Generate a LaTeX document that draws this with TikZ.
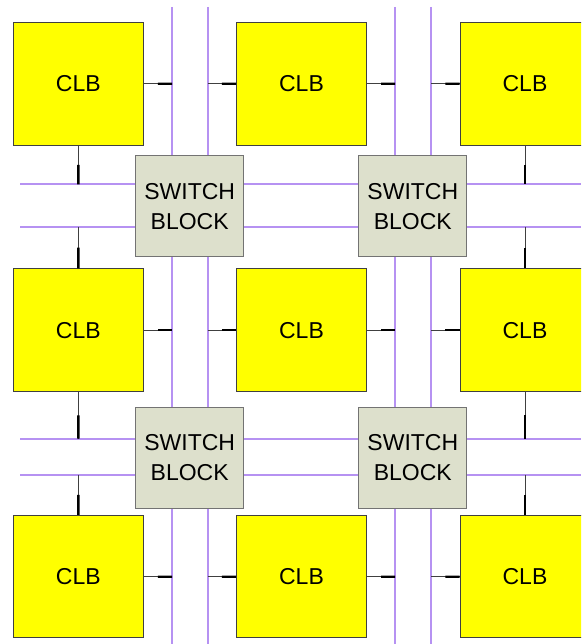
\documentclass[tikz,border=0pt]{standalone}
\usepackage{fontspec}
\setmainfont{Liberation Sans}
\usetikzlibrary{calc}

\definecolor{clbyellow}{RGB}{255,255,0}
\definecolor{sbgray}{RGB}{221,224,204}
\definecolor{routing}{RGB}{182,146,242}

\tikzset{
    clb/.style={draw=black!75, fill=clbyellow, line width=1pt,
        minimum width=130pt, minimum height=122.5pt, inner sep=0pt,
        font=\fontsize{23}{30}\selectfont},
    switchbox/.style={draw=black!55, fill=sbgray, line width=1.2pt,
        minimum width=108pt, minimum height=101pt, inner sep=0pt,
        align=center, font=\fontsize{23}{30}\selectfont},
    track/.style={draw=routing, line width=2pt},
    pinthin/.style={draw=black!75, line width=1pt},
    pinthick/.style={draw=black, line width=2.4pt},
}

% thin first half, thick second half
\newcommand{\pinwire}[2]{%
    \draw[pinthin] (#1) -- (#2);
    \draw[pinthick] ($(#1)!0.5!(#2)$) -- (#2);}

\begin{document}
\begin{tikzpicture}[x=1pt, y=-1pt]

    \clip (0,0) rectangle (581,644);

    % routing tracks
    \foreach \x [count=\i] in {172,207.7,395,431}
        \draw[track] (\x,7) coordinate (v\i) -- (\x,644);
    \foreach \y [count=\i] in {184.3,226.7,438.7,474.7}
        \draw[track] (20,\y) coordinate (h\i) -- (581,\y);

    % switch blocks
    \foreach \c/\x in {1/189.7,2/412.8}
        \foreach \r/\y in {1/206.2,2/458}
            \node[switchbox] (sb\r\c) at (\x,\y) {SWITCH\\BLOCK};

    % logic blocks
    \foreach \c/\x in {1/78.3,2/301.5,3/525}
        \foreach \r/\y in {1/83.8,2/330.1,3/576.7}
            \node[clb] (clb\r\c) at (\x,\y) {CLB};

    % horizontal pins
    \foreach \r in {1,2,3} {
        \pinwire{clb\r1.east}{clb\r1.east -| v1}
        \pinwire{clb\r2.west -| v2}{clb\r2.west}
        \pinwire{clb\r2.east}{clb\r2.east -| v3}
        \pinwire{clb\r3.west -| v4}{clb\r3.west}
    }

    % vertical pins
    \foreach \c in {1,3} {
        \pinwire{clb1\c.south}{clb1\c.south |- h1}
        \pinwire{clb2\c.north |- h2}{clb2\c.north}
        \pinwire{clb2\c.south}{clb2\c.south |- h3}
        \pinwire{clb3\c.north |- h4}{clb3\c.north}
    }

\end{tikzpicture}
\end{document}
